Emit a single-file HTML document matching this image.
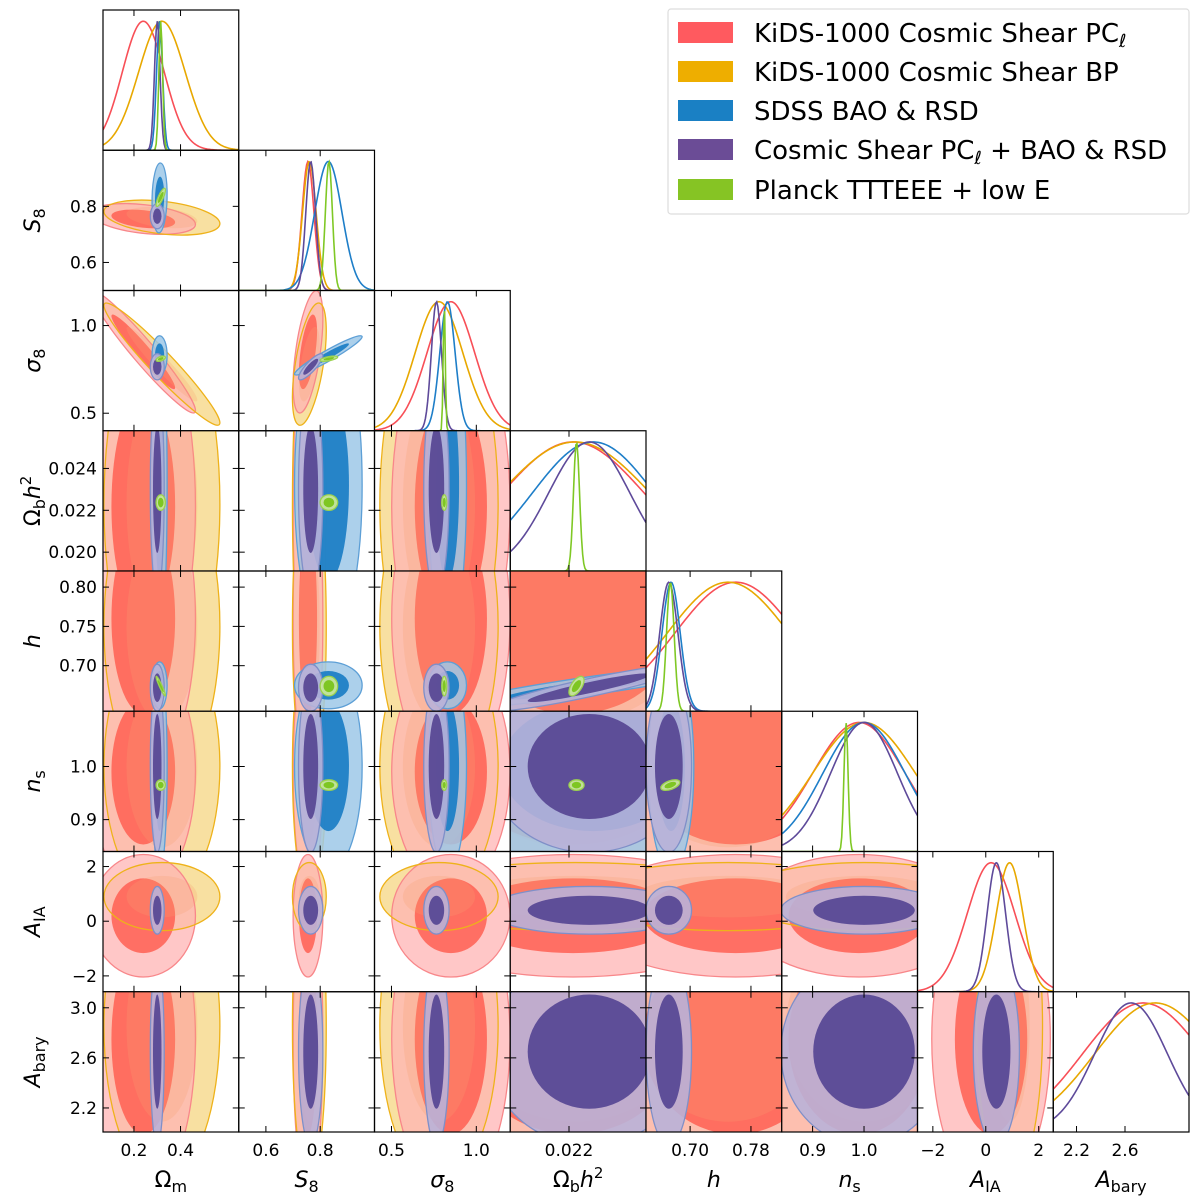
<!DOCTYPE html>
<html><head><meta charset="utf-8"><style>
html,body{margin:0;padding:0;background:#fff;}
svg{display:block;font-family:"DejaVu Sans","Liberation Sans",sans-serif;}
</style></head><body>
<svg id="chart" width="1200" height="1202" viewBox="0 0 1200 1202" xmlns="http://www.w3.org/2000/svg">
<defs id="defs"></defs>
<g id="panels"></g>
<g id="legend"></g>
</svg>
<script>
// ---- data ----
const paramNames = ["Om","S8","s8","Obh2","h","ns","AIA","Abary"];
const datasetNames = ["KiDS-1000 Cosmic Shear PCl","KiDS-1000 Cosmic Shear BP","SDSS BAO & RSD","Cosmic Shear PCl + BAO & RSD","Planck TTTEEE + low E"];
const meanPC    = [0.24, 0.755, 0.85, 0.0222, 0.76, 0.99, 0.2, 2.75];
const sigmaPC   = [0.09, 0.022, 0.14, 0.0035, 0.08, 0.09, 0.9, 0.5];
const meanBP    = [0.32, 0.760, 0.78, 0.0223, 0.75, 1.00, 0.9, 2.85];
const sigmaBP   = [0.10, 0.025, 0.14, 0.0037, 0.08, 0.10, 0.5, 0.5];
const meanSDSS  = [0.31, 0.830, 0.83, 0.0232, 0.675, 1.00, null, null];
const sigmaSDSS = [0.013,0.050, 0.045,0.0030, 0.012, 0.08, null, null];
const meanComb  = [0.30, 0.765, 0.765,0.0230, 0.672, 1.00, 0.4, 2.65];
const sigmaComb = [0.012,0.018, 0.030,0.0020, 0.012, 0.065, 0.35, 0.3];
const meanPlanck  = [0.315, 0.832, 0.811, 0.02237, 0.674, 0.965, null, null];
const sigmaPlanck = [0.008, 0.013, 0.006, 0.00015, 0.005, 0.004, null, null];
// correlations: [paramA, paramB, r]
const corrPC     = [[0,2,-0.96],[0,1,-0.35],[1,2,0.55]];
const corrBP     = [[0,2,-0.96],[0,1,-0.35],[1,2,0.55]];
const corrSDSS   = [[1,2,0.95],[0,1,0.1],[3,4,0.92]];
const corrComb   = [[1,2,0.85],[3,4,0.92]];
const corrPlanck = [[0,4,-0.95],[0,1,0.8],[1,2,0.6],[3,4,0.6],[4,5,0.5],[0,2,0.5]];
// axis ranges and ticks
const rangeLo = [0.067, 0.50, 0.40, 0.0191, 0.642, 0.840, -2.58, 2.008];
const rangeHi = [0.650, 1.00, 1.20, 0.0258, 0.8205,1.104,  2.55, 3.128];
const xTicks = [[0.2,0.4],[0.6,0.8],[0.5,1.0],[0.022],[0.70,0.78],[0.9,1.0],[-2,0,2],[2.2,2.6]];
const xTickLabels = [["0.2","0.4"],["0.6","0.8"],["0.5","1.0"],["0.022"],["0.70","0.78"],["0.9","1.0"],["\u22122","0","2"],["2.2","2.6"]];
const yTicks = [[],[0.6,0.8],[0.5,1.0],[0.020,0.022,0.024],[0.70,0.75,0.80],[0.9,1.0],[-2,0,2],[2.2,2.6,3.0]];
const yTickLabels = [[],["0.6","0.8"],["0.5","1.0"],["0.020","0.022","0.024"],["0.70","0.75","0.80"],["0.9","1.0"],["\u22122","0","2"],["2.2","2.6","3.0"]];

// ---- styles ----
const NS="http://www.w3.org/2000/svg";
const X0=103, PW=135.75, Y0=10, PH=140.25, N=8;
const sets=[
 {m:meanBP,s:sigmaBP,c:corrBP,outer:"#f7da90",inner:"#f4c45a",line:"#e8a800",oo:0.85,io:0.0,stroke:"#eeb21a",key:"bp"},
 {m:meanPC,s:sigmaPC,c:corrPC,outer:"#ffb4b4",inner:"#ff5f52",line:"#f84f57",oo:0.75,io:0.85,stroke:"#f8878a",key:"pc"},
 {m:meanSDSS,s:sigmaSDSS,c:corrSDSS,outer:"#9ec8e8",inner:"#1f7fc6",line:"#1e7ec8",oo:0.85,io:0.95,stroke:"#5d9fd6",key:"sdss"},
 {m:meanComb,s:sigmaComb,c:corrComb,outer:"#b9b1d8",inner:"#5b4a96",line:"#5e4a9a",oo:0.9,io:0.97,stroke:"#7f8fc8",key:"comb"},
 {m:meanPlanck,s:sigmaPlanck,c:corrPlanck,outer:"#c8e79a",inner:"#7ec623",line:"#7fc825",oo:0.95,io:1,stroke:"#9bd24e",key:"planck"}
];
const lineOrder=[1,0,2,3,4];
function xs(p,col,v){return X0+col*PW+(v-rangeLo[p])/(rangeHi[p]-rangeLo[p])*PW;}
function ys(p,row,v){return Y0+row*PH+PH-(v-rangeLo[p])/(rangeHi[p]-rangeLo[p])*PH;}
function el(t,a,parent){const e=document.createElementNS(NS,t);for(const k in a)e.setAttribute(k,a[k]);if(parent)parent.appendChild(e);return e;}
function corr(set,a,b){for(const c of set.c){if((c[0]===a&&c[1]===b)||(c[0]===b&&c[1]===a))return c[2];}return 0;}

const panels=document.getElementById('panels');
const defs=document.getElementById('defs');

function ellipse(g,set,px,py,col,row,k,fill,op,stroke){
  const sx=set.s[px]*PW/(rangeHi[px]-rangeLo[px]);
  const sy=set.s[py]*PH/(rangeHi[py]-rangeLo[py]);
  const r=-corr(set,px,py);
  const a=sx*sx,b=sy*sy,c=r*sx*sy;
  const th=0.5*Math.atan2(2*c,a-b);
  const d=Math.sqrt(((a-b)/2)**2+c*c);
  const l1=(a+b)/2+d,l2=Math.max((a+b)/2-d,0.3);
  const cx=xs(px,col,set.m[px]),cy=ys(py,row,set.m[py]);
  const e=el('ellipse',{cx:cx.toFixed(2),cy:cy.toFixed(2),rx:(k*Math.sqrt(l1)).toFixed(2),ry:(k*Math.sqrt(l2)).toFixed(2),
    transform:`rotate(${(th*180/Math.PI).toFixed(2)} ${cx.toFixed(2)} ${cy.toFixed(2)})`,
    fill:fill,'fill-opacity':op,stroke:stroke||'none','stroke-width':1.3},g);
  return e;
}

for(let row=0;row<N;row++){
  for(let col=0;col<=row;col++){
    const g=el('g',{},panels);
    
    
    const x=X0+col*PW,y=Y0+row*PH;
    const cid=`clip${row}_${col}`;
    const cp=el('clipPath',{id:cid},defs);el('rect',{x:x,y:y,width:PW,height:PH},cp);
    const inner=el('g',{'clip-path':`url(#${cid})`},g);
    if(row===col){
      const p=col;
      for(const i of lineOrder){const set=sets[i];
        if(set.m[p]===null)continue;
        let d='';
        for(let j=0;j<=120;j++){
          const v=rangeLo[p]+(rangeHi[p]-rangeLo[p])*j/120;
          const z=(v-set.m[p])/set.s[p];
          const yy=y+PH-0.92*PH*Math.exp(-0.5*z*z);
          d+=(j?'L':'M')+xs(p,col,v).toFixed(2)+','+yy.toFixed(2);
        }
        const path=el('path',{d:d,fill:'none',stroke:set.line,'stroke-width':1.6},inner);
        
        
      }
    } else {
      const px=col,py=row;
      const have=s=>s.m[px]!==null&&s.m[py]!==null;
      const bp=sets[0],pc=sets[1];
      if(have(bp)){const e=ellipse(inner,bp,px,py,col,row,2.49,bp.outer,bp.oo,null);}
      if(have(pc)){const e=ellipse(inner,pc,px,py,col,row,2.49,pc.outer,pc.oo,pc.stroke);
        const e2=ellipse(inner,pc,px,py,col,row,1.52,pc.inner,pc.io,null);}
      if(have(bp)){const e=ellipse(inner,bp,px,py,col,row,2.49,'none',0,bp.stroke);
        const e2=ellipse(inner,bp,px,py,col,row,1.52,'#f6a070',0.25,null);}
      for(const i of [2,3,4]){const set=sets[i];if(!have(set))continue;
        const e=ellipse(inner,set,px,py,col,row,2.49,set.outer,set.oo,set.stroke);
        const e2=ellipse(inner,set,px,py,col,row,1.52,set.inner,set.io,null);}
    }
    // frame
    el('rect',{x:x,y:y,width:PW,height:PH,fill:'none',stroke:'#000','stroke-width':1.2},g);
    // x ticks
    xTicks[col].forEach(v=>{const tx=xs(col,col,v);
      el('line',{x1:tx,y1:y+PH,x2:tx,y2:y+PH-6,stroke:'#000','stroke-width':1},g);
      el('line',{x1:tx,y1:y,x2:tx,y2:y+6,stroke:'#000','stroke-width':1},g);});
    if(row!==col){yTicks[row].forEach(v=>{const ty=ys(row,row,v);
      el('line',{x1:x,y1:ty,x2:x+6,y2:ty,stroke:'#000','stroke-width':1},g);
      el('line',{x1:x+PW,y1:ty,x2:x+PW-6,y2:ty,stroke:'#000','stroke-width':1},g);});}
  }
}
// tick labels
const lab=el('g',{},panels);


for(let p=0;p<N;p++){
  xTicks[p].forEach((v,i)=>{const t=el('text',{x:xs(p,p,v),y:1156,'font-size':17,'text-anchor':'middle'},lab);t.textContent=xTickLabels[p][i];
    });
  yTicks[p].forEach((v,i)=>{const t=el('text',{x:97,y:ys(p,p,v)+6,'font-size':17,'text-anchor':'end'},lab);t.textContent=yTickLabels[p][i];
    });
}
const axisHtml=[
 ['Ω','m',false],['S','8',true],['σ','8',true],['Ω','b',false,'h','2'],['h','',true],['n','s',true],['A','IA',true],['A','bary',true]
];
function mkLabel(p,x,y,rot){
  const a=axisHtml[p];
  const t=el('text',{x:x,y:y,'font-size':22,'text-anchor':'middle'},lab);
  if(rot)t.setAttribute('transform',`rotate(-90 ${x} ${y})`);
  const s1=el('tspan',{'font-style':a[2]?'italic':'normal'},t);s1.textContent=a[0];
  if(a[1]){const s2=el('tspan',{'font-size':16,dy:5},t);s2.textContent=a[1];}
  if(a[3]){const s3=el('tspan',{'font-style':'italic',dy:-5},t);s3.textContent=a[3];const s4=el('tspan',{'font-size':15,dy:-9},t);s4.textContent=a[4];}
  
  
}
for(let p=0;p<N;p++){
  mkLabel(p,X0+p*PW+PW/2,1187,false);
  if(p>0)mkLabel(p,40,Y0+p*PH+PH/2,true);
}
// legend
const lg=document.getElementById('legend');
el('rect',{x:668,y:9,width:521,height:205,rx:3,fill:'#fff',stroke:'#ddd','stroke-width':1.2},lg);
const legCols=["#ff5a5f","#eeae00","#1a80c4","#6b4c96","#86c424"];
const legRows=[33,72,111,150,190];
datasetNames.forEach((n,i)=>{
  const g=el('g',{},lg);
  
  
  el('rect',{x:678,y:legRows[i]-11,width:55,height:21,fill:legCols[i]},g);
  const t=el('text',{x:754,y:legRows[i]+9,'font-size':26},g);
  if(n.indexOf('PCl')>=0){
    const parts=n.split('PCl');
    const a=el('tspan',{},t);a.textContent=parts[0]+'PC';
    const b=el('tspan',{'font-size':18,'font-style':'italic',dy:5},t);b.textContent='ℓ';
    if(parts[1]){const c=el('tspan',{dy:-5},t);c.textContent=parts[1];}
  } else t.textContent=n;
});
</script>
</body></html>
